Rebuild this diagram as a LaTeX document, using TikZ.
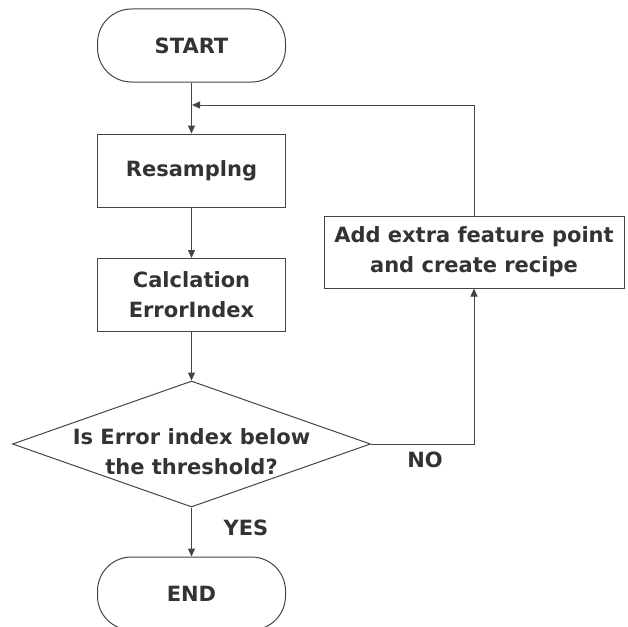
\documentclass[tikz,border=0pt]{standalone}
\usepackage{fontspec}
\setmainfont{DejaVu Sans}
\usetikzlibrary{arrows.meta,shapes.geometric}
\definecolor{ink}{HTML}{333333}
\definecolor{wire}{HTML}{444444}
\begin{document}
\begin{tikzpicture}[x=1pt,y=-1pt,
  every node/.style={text=ink,font=\bfseries\fontsize{21}{30}\selectfont,align=center},
  terminal/.style={draw=wire,line width=1pt,rounded corners=34pt,minimum width=188pt,minimum height=73pt,inner sep=0pt},
  process/.style={draw=wire,line width=1pt,minimum width=188pt,minimum height=73pt,inner sep=0pt},
  flow/.style={draw=wire,line width=1pt,-{Triangle[length=8pt,width=7pt]}}]
\useasboundingbox (0,0) rectangle (628,626);
% main column
\node[terminal] (start) at (191.5,45.5) {START};
\node[process] (res) at (191.5,170.5) {Resamplng};
\node[process] (calc) at (191.5,295) {Calclation\\ErrorIndex};
\node[diamond,draw=wire,line width=1pt,minimum width=358pt,minimum height=126pt,inner sep=0pt] (dec) at (191.5,444) {};
\node (dectext) at (191.5,452) {Is Error index below\\the threshold?};
\node[terminal] (end) at (191.5,593.5) {END};
% retry branch
\node[draw=wire,line width=1pt,minimum width=300pt,minimum height=72pt,inner sep=0pt] (add) at (474,252) {Add extra feature point\\and create recipe};
\coordinate (join) at (192,105);
% connectors
\draw[flow] (start.south) -- (res.north);
\draw[flow] (res.south) -- (calc.north);
\draw[flow] (calc.south) -- (dec.north);
\draw[flow] (dec.south) -- (end.north);
\draw[flow] (dec.east) -| (add.south);
\draw[flow] (add.north) |- (join);
% branch labels
\node (yes) at (246,528) {YES};
\node (no) at (425,460) {NO};
\end{tikzpicture}
\end{document}
